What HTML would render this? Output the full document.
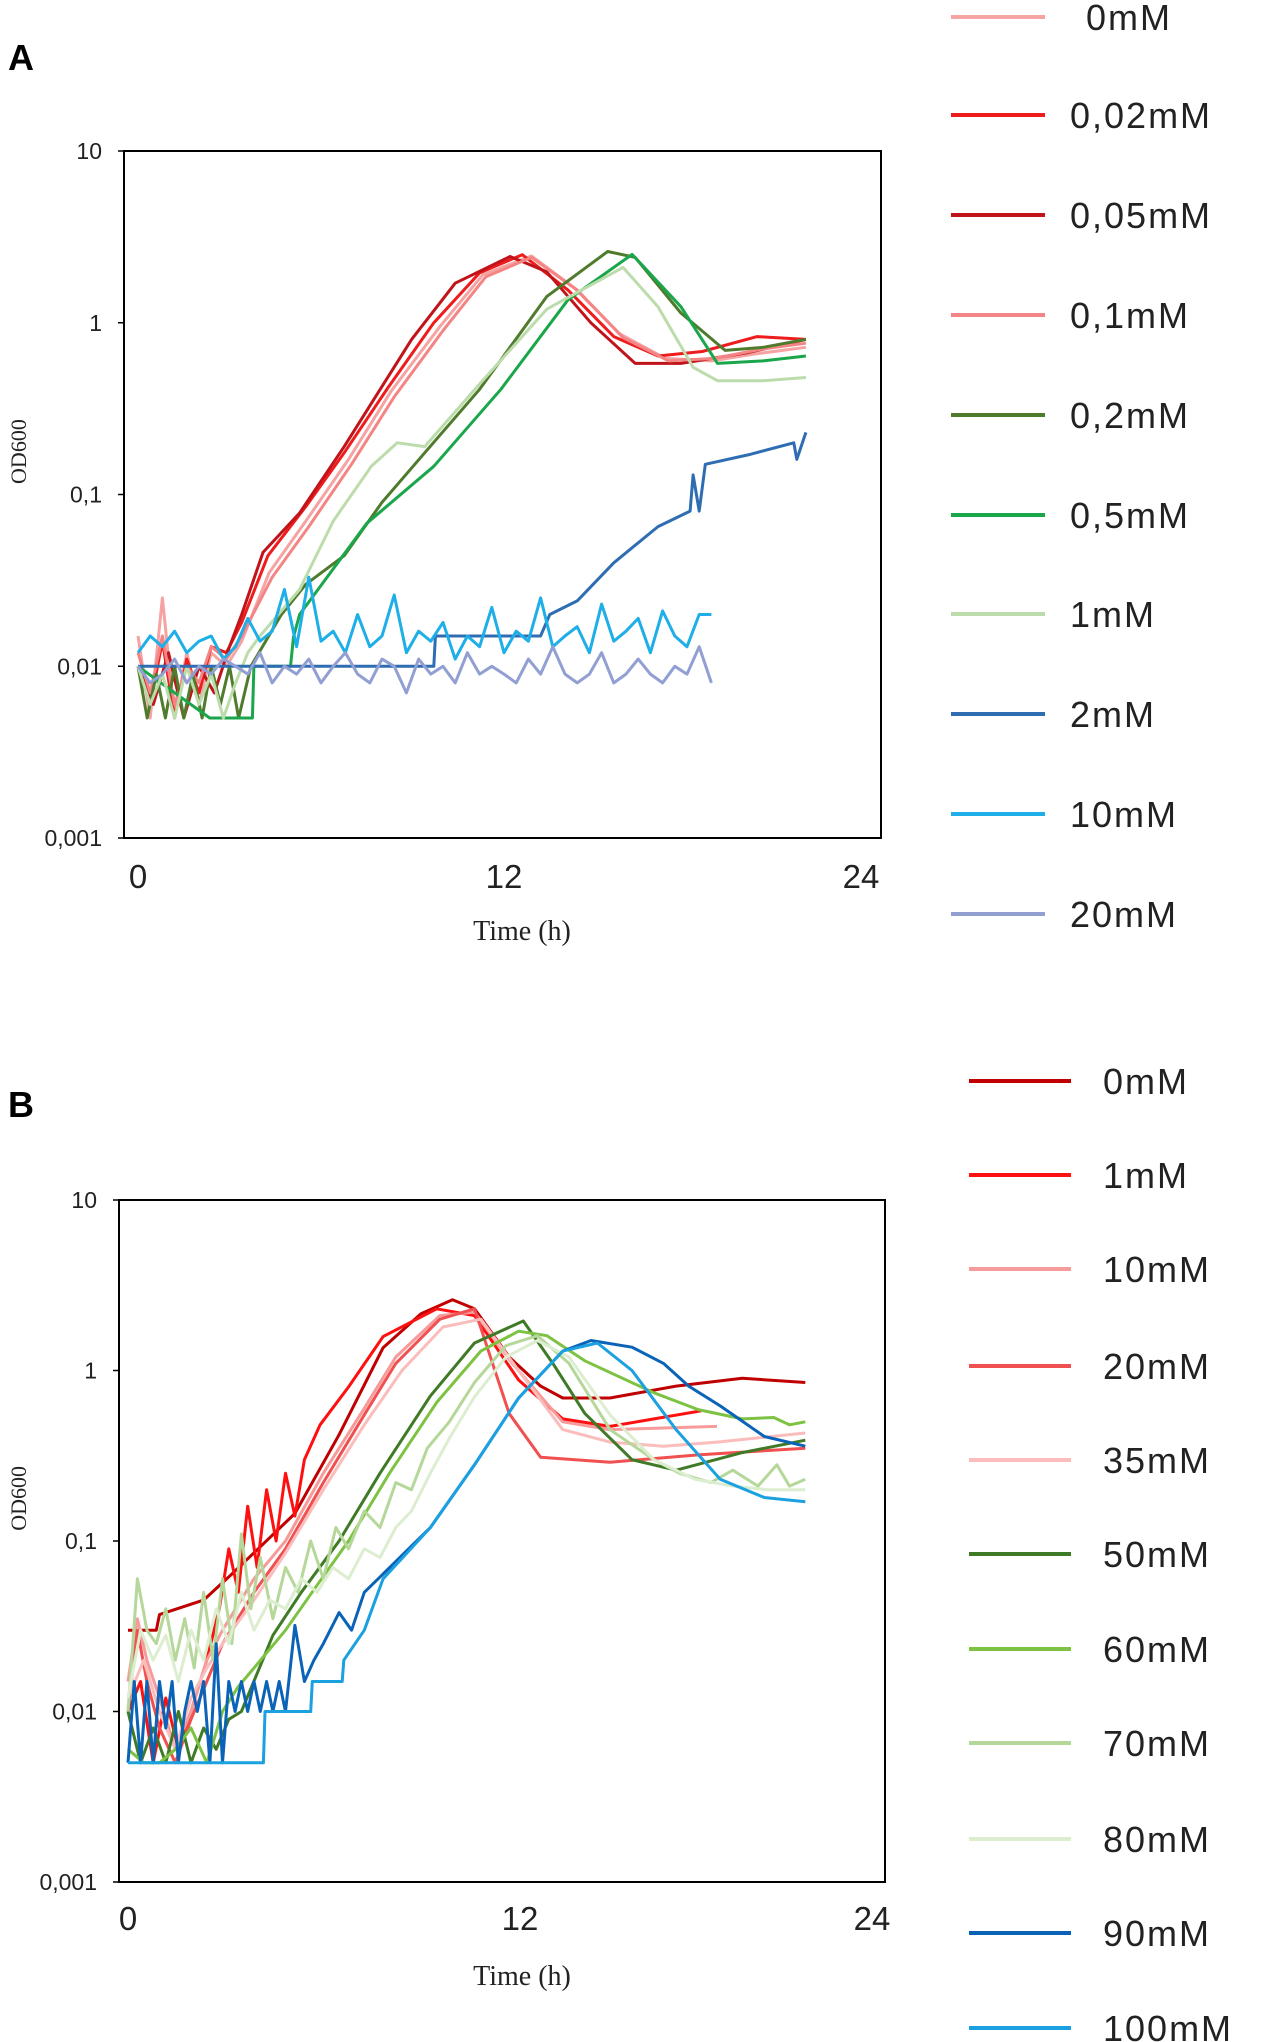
<!DOCTYPE html>
<html><head><meta charset="utf-8"><style>
html,body{margin:0;padding:0;background:#fff;}
svg{display:block;font-family:"Liberation Sans",sans-serif;}
</style></head><body>
<svg id="fig" width="1267" height="2042" viewBox="0 0 1267 2042"></svg>
<script>
// ===== Panel A data =====
const aNames=["0mM","0,02mM","0,05mM","0,1mM","0,2mM","0,5mM","1mM","2mM","10mM","20mM"];
const aColors=["#f5a3a3","#ee1c1c","#c0141a","#f48585","#4f7b2d","#1aa64a","#bcdcab","#2f6db3","#1eaee8","#919fd2"];
const a0_t=[0,0.4,0.8,1.2,1.6,2,2.4,2.9,3.4,4.3,5.5,6.9,8.3,9.9,11.3,12.9,14.3,15.8,17.3,18.8,20.3,21.9];
const a0_v=[0.015,0.005,0.025,0.005,0.012,0.006,0.012,0.01,0.014,0.035,0.07,0.16,0.4,0.95,1.9,2.45,1.6,0.86,0.62,0.6,0.66,0.72];
const a1_t=[0,0.4,0.8,1.2,1.6,2,2.4,2.9,3.4,4.26,5.5,6.76,8.2,9.7,11.2,12.6,14.1,15.6,17.05,18.5,20.3,21.9];
const a1_v=[0.01,0.006,0.014,0.005,0.011,0.007,0.013,0.012,0.018,0.044,0.085,0.175,0.42,1.0,1.95,2.49,1.55,0.83,0.64,0.68,0.83,0.8];
const a2_t=[0,0.5,1,1.5,2,2.5,3,3.4,4.1,5.3,6.76,8.97,10.4,12.2,13.4,14.85,16.3,17.8,20,21.9];
const a2_v=[0.01,0.006,0.012,0.005,0.01,0.007,0.013,0.02,0.046,0.078,0.19,0.8,1.7,2.43,1.98,1.0,0.58,0.58,0.67,0.8];
const a3_t=[0,0.4,0.8,1.2,1.6,2,2.4,2.9,3.4,4.4,5.6,7,8.4,10,11.4,12.9,14.4,15.9,17.4,18.9,20.4,21.9];
const a3_v=[0.012,0.007,0.015,0.006,0.01,0.008,0.013,0.011,0.015,0.033,0.065,0.15,0.37,0.9,1.85,2.4,1.55,0.82,0.6,0.62,0.7,0.76];
const a4_t=[0,0.3,0.6,0.9,1.2,1.5,1.8,2.1,2.4,2.7,3,3.3,3.7,4.7,5.5,6.76,8,9.4,11.2,13.4,15.4,16.3,17.8,19.25,20.5,21.9];
const a4_v=[0.01,0.005,0.009,0.005,0.01,0.005,0.009,0.005,0.01,0.006,0.01,0.005,0.01,0.02,0.03,0.044,0.09,0.175,0.41,1.42,2.6,2.4,1.14,0.69,0.72,0.8];
const a5_t=[0,2.35,3.75,3.8,5.0,5.1,5.3,7.5,9.7,11.9,14.1,16.2,17.8,19,20.5,21.9];
const a5_v=[0.01,0.005,0.005,0.01,0.01,0.0148,0.02,0.068,0.146,0.41,1.36,2.5,1.24,0.58,0.6,0.64];
const a6_t=[0,0.4,0.8,1.2,1.6,2,2.4,2.8,3.2,3.6,4,4.6,5.3,6.4,7.65,8.5,9.4,11.2,13.4,15.9,17.05,18.2,19,20.5,21.9];
const a6_v=[0.01,0.006,0.009,0.005,0.01,0.006,0.009,0.005,0.008,0.012,0.015,0.02,0.028,0.07,0.146,0.2,0.19,0.44,1.2,2.1,1.24,0.55,0.46,0.46,0.48];
const a7_t=[0,9.7,9.75,13.2,13.5,14.4,15.6,17.05,18.1,18.2,18.4,18.6,20,21.5,21.6,21.9];
const a7_v=[0.01,0.01,0.015,0.015,0.02,0.024,0.04,0.065,0.08,0.13,0.08,0.15,0.17,0.2,0.16,0.23];
const a8_v=[0.012,0.015,0.013,0.016,0.012,0.014,0.015,0.011,0.013,0.019,0.014,0.016,0.028,0.013,0.033,0.014,0.016,0.012,0.02,0.013,0.015,0.026,0.012,0.016,0.014,0.018,0.011,0.015,0.013,0.022,0.012,0.016,0.014,0.025,0.013,0.015,0.017,0.012,0.023,0.014,0.016,0.019,0.012,0.021,0.015,0.013,0.02,0.02];
const a9_v=[0.01,0.008,0.009,0.011,0.008,0.01,0.009,0.011,0.01,0.009,0.012,0.008,0.01,0.009,0.011,0.008,0.01,0.012,0.009,0.008,0.011,0.01,0.007,0.011,0.009,0.01,0.008,0.012,0.009,0.01,0.009,0.008,0.011,0.009,0.013,0.009,0.008,0.009,0.012,0.008,0.009,0.011,0.009,0.008,0.01,0.009,0.013,0.008];
const noiseStep=0.4;

// ===== Panel B data =====
const bNames=["0mM","1mM","10mM","20mM","35mM","50mM","60mM","70mM","80mM","90mM","100mM"];
const bColors=["#c00000","#ff1010","#f79a9a","#f05050","#fbbcbc","#3f7a26","#7dc242","#b5d89a","#dcedd0","#0b63b8","#1ba0e0"];
const b0_t=[0,0.9,1.0,2.4,3.3,5.3,6.7,8.1,9.3,10.3,11,12.1,13.1,13.8,15.3,17.4,19.5,21.5];
const b0_v=[0.03,0.03,0.037,0.045,0.064,0.145,0.42,1.36,2.15,2.6,2.3,1.2,0.81,0.69,0.69,0.81,0.9,0.85];
const b1_t=[0,0.4,0.8,1.2,1.6,2,2.5,2.9,3.2,3.5,3.8,4.1,4.4,4.7,5,5.3,5.6,6.1,7,8.1,9.8,11,12.4,13.8,15.3,16.7,18.2];
const b1_v=[0.01,0.015,0.005,0.012,0.006,0.01,0.02,0.04,0.09,0.05,0.16,0.07,0.2,0.1,0.25,0.14,0.3,0.48,0.8,1.58,2.3,2.1,0.88,0.52,0.47,0.52,0.58];
const b2_t=[0,0.3,0.6,1,1.5,2,2.5,3,4,5,6.2,7.5,8.5,9.9,11,12.2,13.8,15.3,17,18.7];
const b2_v=[0.015,0.035,0.02,0.012,0.006,0.01,0.02,0.03,0.06,0.1,0.25,0.6,1.2,2.1,2.2,1.1,0.5,0.45,0.46,0.47];
const b3_t=[0,0.3,0.6,1,1.5,2,2.5,3,4,5,6.2,7.5,8.5,9.9,11,12.1,13.1,15.3,18.1,21.5];
const b3_v=[0.01,0.03,0.015,0.008,0.005,0.009,0.015,0.025,0.05,0.09,0.22,0.55,1.1,2.0,2.3,0.56,0.31,0.29,0.32,0.35];
const b4_t=[0,0.5,1,1.5,2,2.5,3,4,5,6.2,7.5,8.7,10,11.2,12.4,13.8,15.3,17,18.7,21.5];
const b4_v=[0.012,0.02,0.01,0.006,0.012,0.018,0.025,0.045,0.085,0.2,0.48,1.0,1.8,2.0,1.0,0.45,0.38,0.36,0.38,0.43];
const b5_t=[0,0.4,0.8,1.2,1.6,2,2.4,2.8,3.2,3.6,4.6,5.5,6.7,8,9.6,11,12.55,13.5,14.5,16,17.4,19.5,21.5];
const b5_v=[0.01,0.005,0.008,0.005,0.01,0.005,0.008,0.006,0.009,0.01,0.028,0.05,0.1,0.25,0.71,1.45,1.95,1.09,0.56,0.3,0.26,0.33,0.39];
const b6_t=[0,0.5,1,1.5,2,2.5,3,3.5,4,5,6,7,8.3,9.8,11.2,12.4,13.3,14.5,16.7,18.1,19.5,20.5,21,21.5];
const b6_v=[0.006,0.005,0.005,0.006,0.008,0.005,0.01,0.014,0.018,0.03,0.055,0.1,0.25,0.65,1.3,1.7,1.6,1.14,0.74,0.59,0.52,0.53,0.48,0.5];
const b7_t=[0,0.3,0.6,0.9,1.2,1.5,1.8,2.1,2.4,2.7,3,3.3,3.6,3.9,4.2,4.6,5,5.4,5.8,6.2,6.6,7,7.5,8,8.5,9,9.5,10.2,11,12,13,14,15.3,16.7,17.5,18.5,19.2,20,20.6,21,21.5];
const b7_v=[0.01,0.06,0.03,0.025,0.04,0.02,0.035,0.018,0.05,0.02,0.06,0.025,0.11,0.04,0.08,0.035,0.07,0.05,0.1,0.06,0.12,0.09,0.15,0.12,0.22,0.2,0.35,0.5,0.85,1.4,1.6,1.1,0.45,0.3,0.25,0.22,0.26,0.21,0.28,0.21,0.23];
const b8_t=[0,0.4,0.8,1.2,1.6,2,2.4,2.8,3.2,3.6,4,4.5,5,5.5,6,6.5,7,7.5,8,8.5,9,9.6,10.2,11,12,13,14,15.3,16.7,18,19.2,20.3,21.5];
const b8_v=[0.012,0.03,0.02,0.028,0.015,0.03,0.02,0.04,0.025,0.05,0.03,0.045,0.04,0.06,0.05,0.07,0.06,0.09,0.08,0.12,0.15,0.25,0.4,0.7,1.2,1.5,1.2,0.55,0.3,0.23,0.21,0.2,0.2];
const b9_t=[0,0.2,0.4,0.6,0.8,1,1.2,1.4,1.6,1.8,2,2.2,2.4,2.6,2.8,3,3.2,3.4,3.6,3.8,4,4.2,4.4,4.6,4.8,5,5.3,5.6,5.9,6.2,6.7,7.1,7.5,8.1,9.6,11,12.4,13.8,14.7,16,17,17.8,18.8,20.2,21.5];
const b9_v=[0.005,0.015,0.005,0.015,0.005,0.015,0.008,0.015,0.005,0.01,0.015,0.01,0.015,0.005,0.025,0.005,0.015,0.01,0.015,0.01,0.015,0.01,0.015,0.01,0.015,0.01,0.032,0.015,0.02,0.025,0.038,0.03,0.05,0.064,0.12,0.28,0.69,1.3,1.5,1.37,1.1,0.81,0.62,0.41,0.36];
const b10_t=[0,4.3,4.35,5.8,5.85,6.8,6.85,7.5,8.1,9.6,11,12.4,13.8,14.9,16,17.4,18.8,20.2,21.5];
const b10_v=[0.005,0.005,0.01,0.01,0.015,0.015,0.02,0.03,0.06,0.12,0.28,0.69,1.3,1.45,1.0,0.45,0.23,0.18,0.17];
const yTickLabels=["10","1","0,1","0,01","0,001"];
const yTickVals=[10,1,0.1,0.01,0.001];
const xTickVals=[0,12,24];

const NS="http://www.w3.org/2000/svg";
const svg=document.getElementById('fig');
function mk(tag,attrs,parent){const e=document.createElementNS(NS,tag);for(const k in attrs)e.setAttribute(k,attrs[k]);(parent||svg).appendChild(e);return e;}
function noiseT(vals){return vals.map((v,i)=>i*noiseStep);}

function panel(cfg){
  const g=mk('g',{});
  
  
  const xS=t=>cfg.x0+t*cfg.xk;
  const yS=v=>cfg.yTop+(1-Math.log10(v))*cfg.dec;
  // panel letter
  const L=mk('text',{x:8,y:cfg.letterY,'font-size':36,'font-weight':'bold',fill:'#000'},g);
  L.textContent=cfg.letter;
  
  
  // series
  cfg.series.forEach((s,i)=>{
    const d=s.t.map((t,j)=>(j?'L':'M')+xS(t).toFixed(1)+' '+yS(s.v[j]).toFixed(1)).join('');
    const p=mk('path',{d:d,fill:'none',stroke:cfg.colors[i],'stroke-width':3,'stroke-linejoin':'round'},g);
    
    
  });
  // box
  const box=mk('rect',{x:cfg.left,y:cfg.yTop,width:cfg.right-cfg.left,height:cfg.dec*4,fill:'none',stroke:'#000','stroke-width':2},g);
  
  
  yTickVals.forEach((v,i)=>{
    mk('line',{x1:cfg.left-6,x2:cfg.left,y1:yS(v),y2:yS(v),stroke:'#000','stroke-width':1.5},g);
    const t=mk('text',{x:cfg.left-22,y:yS(v)+8,'font-size':23,'text-anchor':'end',fill:'#222'},g);
    t.textContent=yTickLabels[i];
    
    
  });
  xTickVals.forEach(v=>{
    const t=mk('text',{x:xS(v)+cfg.xLabShift(v),y:cfg.xLabY,'font-size':33,'text-anchor':'middle',fill:'#222'},g);
    t.textContent=String(v);
    
    
  });
  const xt=mk('text',{x:522,y:cfg.xTitleY,'font-size':28,'text-anchor':'middle','font-family':'Liberation Serif, serif',fill:'#222'},g);
  xt.textContent='Time (h)';
  
  
  const yt=mk('text',{x:0,y:0,'font-size':22,'text-anchor':'middle','font-family':'Liberation Serif, serif',fill:'#222',transform:'translate(26,'+(cfg.yTop+cfg.dec*1.75)+') rotate(-90)'},g);
  yt.textContent='OD600';
  
  
  // legend
  cfg.names.forEach((n,i)=>{
    const ly=cfg.legY[i];
    const lg=mk('g',{},g);
    
    
    mk('line',{x1:cfg.legX1,x2:cfg.legX2,y1:ly,y2:ly,stroke:cfg.colors[i],'stroke-width':4},lg);
    const t=mk('text',{x:cfg.legTX+(cfg.names===aNames&&i===0?16:0),y:ly+13,'font-size':36,'letter-spacing':2,fill:'#222'},lg);
    t.textContent=n;
  });
}

panel({id:'panel-a',letter:'A',letterY:70,x0:138,xk:30.5,yTop:151,dec:171.75,left:124,right:881,
  xLabY:888,xTitleY:940,xLabShift:v=>v===24?-9:0,
  names:aNames,colors:aColors,
  series:[{t:a0_t,v:a0_v},{t:a1_t,v:a1_v},{t:a2_t,v:a2_v},{t:a3_t,v:a3_v},{t:a4_t,v:a4_v},{t:a5_t,v:a5_v},{t:a6_t,v:a6_v},{t:a7_t,v:a7_v},{t:noiseT(a8_v),v:a8_v},{t:noiseT(a9_v),v:a9_v}],
  legX1:951,legX2:1045,legTX:1070,legY:[17,115,215,315,415,515,614,714,814,914]});
panel({id:'panel-b',letter:'B',letterY:1117,x0:128,xk:31.5,yTop:1200,dec:170.5,left:119,right:885,
  xLabY:1930,xTitleY:1985,xLabShift:v=>v===12?14:(v===24?-12:0),
  names:bNames,colors:bColors,
  series:[{t:b0_t,v:b0_v},{t:b1_t,v:b1_v},{t:b2_t,v:b2_v},{t:b3_t,v:b3_v},{t:b4_t,v:b4_v},{t:b5_t,v:b5_v},{t:b6_t,v:b6_v},{t:b7_t,v:b7_v},{t:b8_t,v:b8_v},{t:b9_t,v:b9_v},{t:b10_t,v:b10_v}],
  legX1:969,legX2:1071,legTX:1103,legY:[1081,1175,1269,1366,1460,1554,1649,1743,1839,1933,2028]});
</script>
</body></html>
